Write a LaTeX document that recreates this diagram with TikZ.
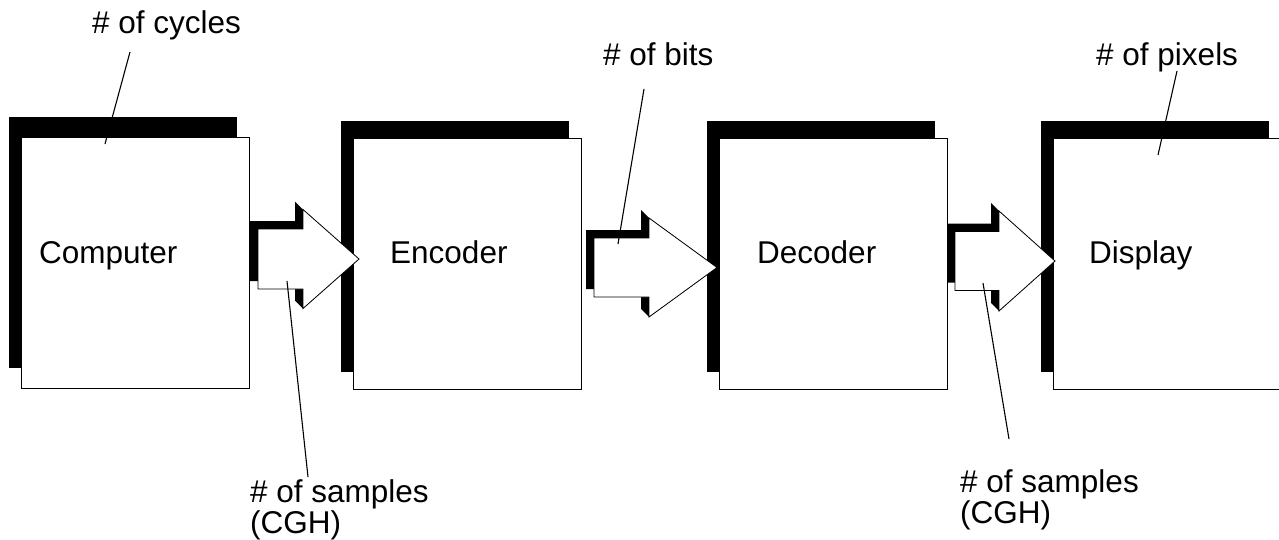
\documentclass[tikz,border=0pt]{standalone}
\usepackage{fontspec}
\setmainfont{Liberation Sans}
\usetikzlibrary{shadows}
\begin{document}
\begin{tikzpicture}[x=1pt,y=-1pt,
  blockbox/.style={draw=black, line width=0.9pt, fill=white, rectangle, inner sep=0pt,
    minimum width=228pt, minimum height=251pt, anchor=north west,
    general shadow={shadow xshift=-12pt, shadow yshift=#1, fill=black}},
  blockbox/.default=17pt,
  lbl/.style={font=\fontsize{31.5}{31}\selectfont, inner sep=0pt, anchor=base west},
  mlbl/.style={font=\fontsize{31.5}{31}\selectfont, inner sep=0pt, anchor=north west, align=left},
  leader/.style={draw=black, line width=1.1pt},
  pics/fatarrow/.style n args={4}{code={
    \fill[black] (-8,{-#3-8}) -- ({#1-8},{-#3-8}) -- ({#1-8},{-#4-8}) -- (#1,-#4) -- ({#1+#2},0) -- (#1,#4) -- ({#1-8},{#4-8}) -- ({#1-8},{#3-8}) -- (-8,{#3-8}) -- cycle;
    \filldraw[fill=white, draw=black, line width=0.8pt] (0,-#3) -- (#1,-#3) -- (#1,-#4) -- ({#1+#2},0) -- (#1,#4) -- (#1,#3) -- (0,#3) -- cycle;
  }}
]
\useasboundingbox (0,0) rectangle (1279,539);
% blocks
\node[blockbox=20pt] (computer) at (21,137) {};
\node[blockbox] (encoder) at (353,138) {};
\node[blockbox] (decoder) at (719,138) {};
\node[blockbox] (display) at (1053,138) {};
% block labels
\node[lbl] (tcomputer) at (39,263) {Computer};
\node[lbl] (tencoder) at (390,263) {Encoder};
\node[lbl] (tdecoder) at (757,263) {Decoder};
\node[lbl] (tdisplay) at (1089,263) {Display};
% arrows
\pic (arrA) at (258,259) {fatarrow={45}{56}{30}{49.5}};
\pic (arrB) at (594,267.5) {fatarrow={55}{68}{29.5}{49.5}};
\pic (arrC) at (955,261) {fatarrow={44}{56}{29.5}{50}};
% annotation labels
\node[lbl] (lcycles) at (92,33) {\# of cycles};
\node[lbl] (lbits) at (603,65) {\# of bits};
\node[lbl] (lpixels) at (1096,65) {\# of pixels};
\node[mlbl] (lsampA) at (250,479) {\# of samples\\(CGH)};
\node[mlbl] (lsampB) at (960,469) {\# of samples\\(CGH)};
% leader end points
\coordinate (cyc1) at (130,52);
\coordinate (cyc2) at (105,144);
\coordinate (bits1) at (644,89);
\coordinate (bits2) at (618,244);
\coordinate (pix1) at (1177,71);
\coordinate (pix2) at (1158,155);
\coordinate (sa1) at (308,477);
\coordinate (sa2) at (287,281);
\coordinate (sb1) at (1009,439);
\coordinate (sb2) at (983,283);
\draw[leader] (cyc1) -- (cyc2);
\draw[leader] (bits1) -- (bits2);
\draw[leader] (pix1) -- (pix2);
\draw[leader] (sa1) -- (sa2);
\draw[leader] (sb1) -- (sb2);
\end{tikzpicture}
\end{document}
